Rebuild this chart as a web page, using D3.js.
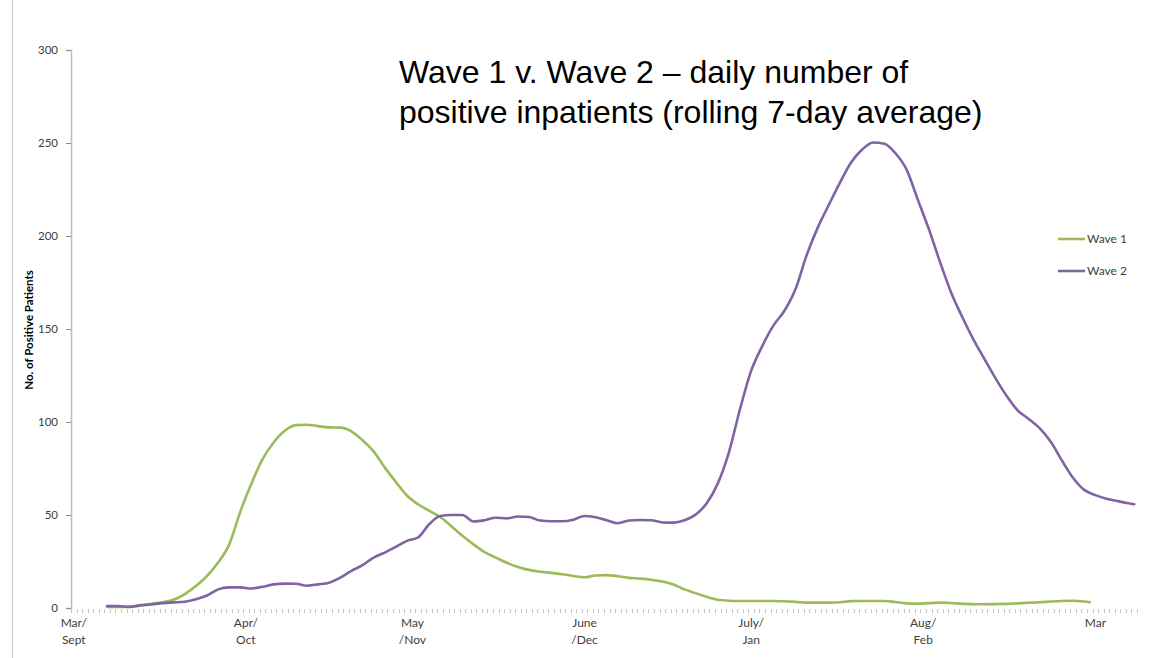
<!DOCTYPE html>
<html>
<head>
<meta charset="utf-8">
<script src="https://cdn.jsdelivr.net/npm/d3@7"></script>
<style>
  html, body { margin: 0; padding: 0; background: #ffffff; }
  svg { display: block; }
</style>
</head>
<body>
<svg id="chart" width="1155" height="658"></svg>
<script>
// Category axis: one slot per day, months labelled (Wave 1 month / Wave 2 month)
const dayCount = 192;
const monthLabels = [
  { day: 0,   lines: ["Mar/", "Sept"] },
  { day: 31,  lines: ["Apr/", "Oct"] },
  { day: 61,  lines: ["May", "/Nov"] },
  { day: 92,  lines: ["June", "/Dec"] },
  { day: 122, lines: ["July/", "Jan"] },
  { day: 153, lines: ["Aug/", "Feb"] },
  { day: 184, lines: ["Mar"] }
];
const yTicks = [0, 50, 100, 150, 200, 250, 300];

// Rolling 7-day average of positive inpatients, sampled every other day
const wave1Days = d3.range(6, 183, 2).concat([183]);
const wave1 = [
  0.5, 0.5, 0.6, 1.6, 2.3, 3.1, 4.4, 7.5, 11.8, 17.2,
  24.4, 34.2, 51.8, 66.9, 80, 89, 95.3, 98.3, 98.5, 97.8,
  97.1, 97, 95, 90.2, 84.2, 75.6, 67.8, 60.5, 55.8, 52.3,
  48.9, 44, 38.8, 34.2, 30, 27.1, 24.3, 22.1, 20.5, 19.5,
  18.9, 18.1, 17.2, 16.5, 17.5, 17.7, 17.1, 16.2, 15.8, 15.2,
  14.2, 12.6, 10, 8, 6, 4.4, 3.9, 3.8, 3.8, 3.8,
  3.8, 3.6, 3.3, 2.9, 2.9, 2.9, 3.1, 3.7, 3.8, 3.8,
  3.8, 3.2, 2.5, 2.3, 2.6, 2.9, 2.7, 2.3, 2.0, 2.0,
  2.1, 2.2, 2.5, 2.8, 3.1, 3.5, 3.8, 3.9, 3.5, 3.1
];

const wave2Days = d3.range(6, 191, 2).concat([191]);
const wave2 = [
  1.1, 1.0, 0.6, 1.3, 1.9, 2.6, 3.0, 3.4, 4.7, 6.7,
  10, 11.1, 11.1, 10.5, 11.4, 12.7, 13.1, 13, 12, 12.7,
  13.6, 16.3, 20, 23, 27.1, 29.8, 32.9, 36.1, 37.9, 45,
  49.5, 50, 50, 46.5, 47.2, 48.5, 48.2, 49.2, 48.9, 47,
  46.6, 46.6, 47.5, 49.5, 48.8, 47.2, 45.6, 47, 47.3, 47.2,
  46, 45.9, 47.2, 50.2, 56.3, 67, 83.7, 107, 127.5, 140.8,
  151.8, 159.8, 171.5, 189.7, 204.5, 216.8, 228.7, 239.5, 246.5, 250.3,
  249.6, 244.5, 235.7, 219.7, 203.8, 186.2, 169.8, 156.6, 144.6, 134,
  123.6, 114.1, 106.3, 101.6, 96.6, 89.2, 79.2, 69.9, 63.5, 60.7,
  58.8, 57.5, 56.3, 55.8
];

const seriesNames = ["Wave 1", "Wave 2"];
const seriesColors = ["#9bbb59", "#8064a2"];

const svg = d3.select("#chart");
const labelFont = "Lato, 'Open Sans', sans-serif";

const plot = { left: 71, right: 1137, top: 50, bottom: 608 };

const x = d3.scaleBand()
  .domain(d3.range(dayCount))
  .range([plot.left, plot.right])
  .paddingInner(0).paddingOuter(0);
const xc = d => x(d) + x.bandwidth() / 2;

const y = d3.scaleLinear().domain([0, 300]).range([plot.bottom, plot.top]);

// slide frame line on the left
svg.append("line")
  .attr("x1", 12.5).attr("x2", 12.5).attr("y1", 0).attr("y2", 658)
  .attr("stroke", "#c8c8c8").attr("stroke-width", 1);

// Y axis
const yAxis = svg.append("g")
  .attr("transform", `translate(${plot.left},0)`)
  .call(d3.axisLeft(y).tickValues(yTicks).tickSize(5).tickPadding(8));
yAxis.select(".domain").attr("stroke", "#bfbfbf").attr("stroke-width", 1.5);
yAxis.selectAll(".tick line").attr("stroke", "#8c8c8c");
yAxis.selectAll(".tick text")
  .attr("font-family", labelFont).attr("font-size", 11.5).attr("fill", "#404040");

// Y axis title
svg.append("text")
  .attr("transform", `translate(33,330) rotate(-90)`)
  .attr("text-anchor", "middle")
  .attr("font-family", labelFont).attr("font-size", 11.5).attr("font-weight", "bold")
  .attr("fill", "#000")
  .text("No. of Positive Patients");

// X axis: small tick marks between every day slot
const boundaries = d3.range(dayCount + 1).map(i => plot.left + i * x.bandwidth());
svg.append("g").selectAll("line")
  .data(boundaries)
  .join("line")
  .attr("x1", d => Math.round(d) + 0.5).attr("x2", d => Math.round(d) + 0.5)
  .attr("y1", plot.bottom + 1).attr("y2", plot.bottom + 5)
  .attr("stroke", "#c4c4c4").attr("stroke-width", 1);

// Month labels
const xl = svg.append("g");
monthLabels.forEach(m => {
  const t = xl.append("text")
    .attr("x", xc(m.day)).attr("y", 627)
    .attr("text-anchor", "middle")
    .attr("font-family", labelFont).attr("font-size", 12).attr("fill", "#404040");
  m.lines.forEach((ln, i) => {
    t.append("tspan").attr("x", xc(m.day)).attr("dy", i === 0 ? 0 : 16.5).text(ln);
  });
});

// Lines
const line = d3.line()
  .x(d => xc(d[0]))
  .y(d => y(d[1]))
  .curve(d3.curveMonotoneX);

const seriesData = [
  d3.zip(wave1Days, wave1),
  d3.zip(wave2Days, wave2)
];

svg.append("g").selectAll("path")
  .data(seriesData)
  .join("path")
  .attr("d", line)
  .attr("fill", "none")
  .attr("stroke", (d, i) => seriesColors[i])
  .attr("stroke-width", 2.6)
  .attr("stroke-linejoin", "round")
  .attr("stroke-linecap", "round");

// Legend
const legend = svg.append("g").attr("transform", "translate(1058,239)");
seriesNames.forEach((name, i) => {
  const g = legend.append("g").attr("transform", `translate(0,${i * 32})`);
  g.append("line").attr("x1", 0).attr("x2", 27).attr("y1", 0).attr("y2", 0)
    .attr("stroke", seriesColors[i]).attr("stroke-width", 2.6);
  g.append("text").attr("x", 29).attr("y", 4)
    .attr("font-family", labelFont).attr("font-size", 12).attr("fill", "#404040")
    .text(name);
});

// Title
const title = svg.append("text")
  .attr("x", 399).attr("y", 83)
  .attr("font-family", "'Liberation Sans', Arial, sans-serif")
  .attr("font-size", 32).attr("fill", "#000");
title.append("tspan").attr("x", 399).attr("dy", 0).text("Wave 1 v. Wave 2 – daily number of");
title.append("tspan").attr("x", 399).attr("dy", 40).text("positive inpatients (rolling 7-day average)");
</script>
</body>
</html>
